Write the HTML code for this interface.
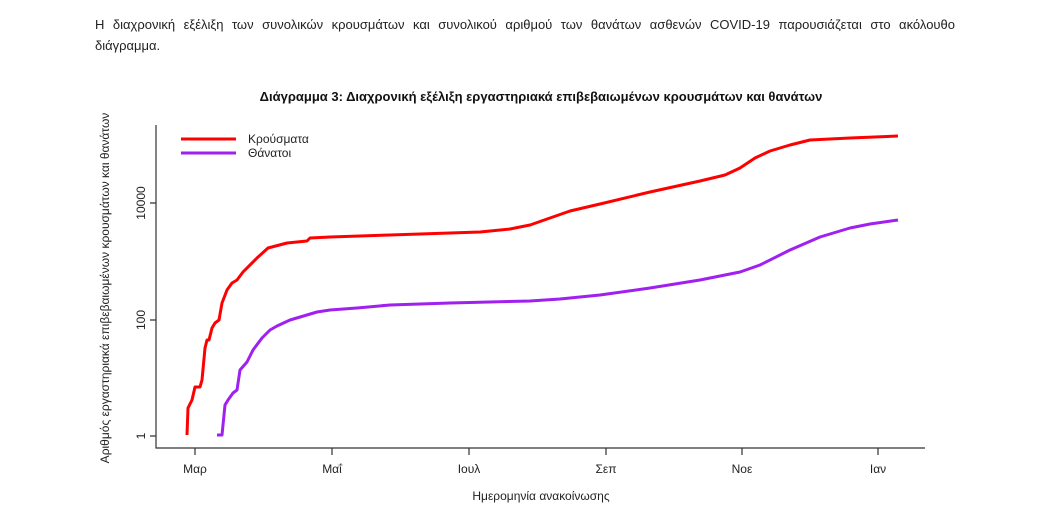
<!DOCTYPE html>
<html><head><meta charset="utf-8"><style>
body{margin:0;background:#fff;width:1045px;height:511px;overflow:hidden;font-family:"Liberation Sans","DejaVu Sans",sans-serif;}
.p{position:absolute;left:95px;width:860px;top:14px;font-size:13px;line-height:21px;color:#222;}
.l1{text-align:justify;text-align-last:justify;white-space:nowrap;display:block;}
</style></head><body>
<div class="p"><span class="l1" style="white-space:normal">Η διαχρονική εξέλιξη των συνολικών κρουσμάτων και συνολικού αριθμού των θανάτων ασθενών COVID-19 παρουσιάζεται στο ακόλουθο</span>διάγραμμα.</div>
<svg width="1045" height="511" style="position:absolute;left:0;top:0" font-family="Liberation Sans, DejaVu Sans, sans-serif">
<text x="541" y="101" text-anchor="middle" font-size="13" font-weight="bold" fill="#111">Διάγραμμα 3: Διαχρονική εξέλιξη εργαστηριακά επιβεβαιωμένων κρουσμάτων και θανάτων</text>
<g stroke="#333" stroke-width="1.2" fill="none">
<path d="M156,125V448H925"/>
<path d="M150,436H156M150,320H156M150,203H156"/>
<path d="M195,448V455M332,448V455M469,448V455M606,448V455M742,448V455M878,448V455"/>
</g>
<g font-size="12" fill="#222" text-anchor="middle">
<text transform="translate(145,436) rotate(-90)">1</text>
<text transform="translate(145,320) rotate(-90)">100</text>
<text transform="translate(145,203) rotate(-90)">10000</text>
<text x="195" y="473">Μαρ</text><text x="332" y="473">Μαΐ</text><text x="469" y="473">Ιουλ</text>
<text x="606" y="473">Σεπ</text><text x="742" y="473">Νοε</text><text x="878" y="473">Ιαν</text>
<text x="541" y="500">Ημερομηνία ανακοίνωσης</text>
<text transform="translate(109,288) rotate(-90)">Αριθμός εργαστηριακά επιβεβαιωμένων κρουσμάτων και θανάτων</text>
</g>
<g fill="none" stroke-width="3" stroke-linejoin="round">
<path stroke="#f00" d="M187,435L188,408L192,400L195,387L200,387L202,380L205,348L207,340L209,340L212,328L215,323L219,320L222,303L227,290L232,283L237,280L243,272L257,258L268,248L287,243L307,241L310,238L330,237L390,235L480,232L510,229L530,225L550,218L570,211L600,204L650,192L700,181L725,175L740,168L755,158L770,151L790,145L810,140L850,138L898,136"/>
<path stroke="#a020f0" d="M217,435L222,435L225,405L228,400L233,393L237,390L240,370L247,362L253,350L262,338L270,330L277,326L290,320L317,312L330,310L357,308L390,305L450,303L530,301L560,299L600,295L650,288L700,280L740,272L760,265L790,250L820,237L850,228L870,224L898,220"/>
<path stroke="#f00" d="M181,139H236"/>
<path stroke="#a020f0" d="M181,153H236"/>
</g>
<text x="248" y="143" font-size="12" fill="#222">Κρούσματα</text>
<text x="248" y="157" font-size="12" fill="#222">Θάνατοι</text>
</svg>
</body></html>
